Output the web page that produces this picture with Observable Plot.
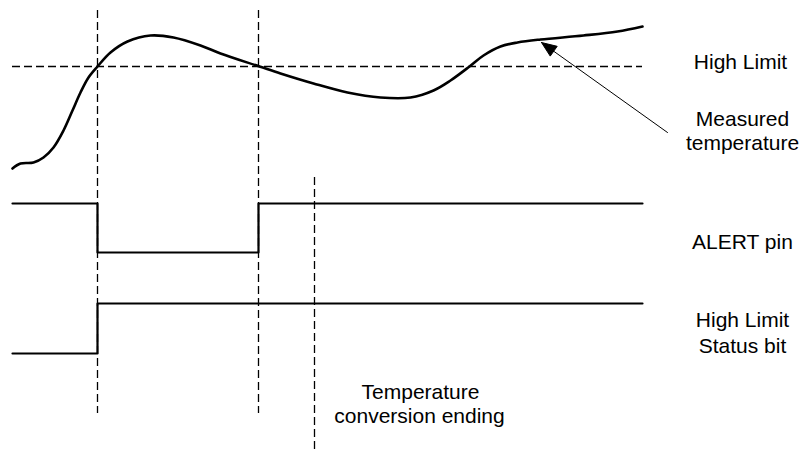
<!DOCTYPE html>
<html><head><meta charset="utf-8">
<script src="https://cdn.jsdelivr.net/npm/d3@7"></script>
<script src="https://cdn.jsdelivr.net/npm/@observablehq/plot@0.6"></script>
<style>body{margin:0;background:#fff}</style>
</head><body><div id="chart"></div>
<script>
// Measured temperature curve (time, level)
const tempTime  = [12, 20, 33, 43, 53, 63, 72, 80, 88, 97, 110, 127, 150, 173, 200, 220, 259, 280, 313, 347, 380, 410, 433, 450, 469, 483, 500, 517, 540, 583, 617, 642];
const tempLevel = [168, 163, 162, 157, 147, 130, 110, 92, 77, 66, 52, 41, 35, 37, 45, 53, 66, 73, 83, 92, 97, 97, 90, 80, 66, 55, 46, 42, 39, 35, 31, 26];
const highLimit = 66;
const limitStart = 12, limitEnd = 642;
// event times (vertical dashed markers)
const crossTimes = [97, 258];
const crossTop = 10, crossBottom = 413;
const conversionTime = 314, conversionTop = 177, conversionBottom = 450;
// ALERT pin signal
const alertTimes  = [12, 97, 258, 642];
const alertLevels = [203, 252, 203, 203];
// High Limit Status bit signal
const statusTimes  = [12, 97, 642];
const statusLevels = [353, 303, 303];
// annotation arrow
const arrowTail = [667, 132], arrowTip = [541, 42];
// labels
const labelText = ["High Limit", "Measured", "temperature", "ALERT pin", "High Limit", "Status bit", "Temperature", "conversion ending"];
const labelTime = [740, 742, 742, 742, 742, 742, 420, 419];
const labelLevel = [68, 125, 149, 248, 326, 352, 398, 422];

const temp = tempTime.map((t, i) => ({t, v: tempLevel[i]}));
const alert = alertTimes.map((t, i) => ({t, v: alertLevels[i]}));
const status = statusTimes.map((t, i) => ({t, v: statusLevels[i]}));
const vlines = crossTimes.map(t => ({t, y1: crossTop, y2: crossBottom}))
  .concat([{t: conversionTime, y1: conversionTop, y2: conversionBottom}]);
const labels = labelText.map((s, i) => ({s, t: labelTime[i], v: labelLevel[i]}));

// arrow head triangle derived from tail/tip
const dx = arrowTip[0] - arrowTail[0], dy = arrowTip[1] - arrowTail[1];
const len = Math.hypot(dx, dy), ux = dx / len, uy = dy / len;
const headL = 15, headW = 12;
const bx = arrowTip[0] - ux * headL, by = arrowTip[1] - uy * headL;
const head = [
  {t: arrowTip[0], v: arrowTip[1]},
  {t: bx - uy * headW / 2, v: by + ux * headW / 2},
  {t: bx + uy * headW / 2, v: by - ux * headW / 2},
  {t: arrowTip[0], v: arrowTip[1]}
];
const shaft = [{t: arrowTail[0], v: arrowTail[1]}, {t: bx, v: by}];

const chart = Plot.plot({
  width: 799, height: 450,
  margin: 0,
  style: {background: "#fff", fontFamily: "'Liberation Sans', Arial, sans-serif"},
  x: {domain: [0, 799], range: [0, 799], axis: null},
  y: {domain: [0, 450], range: [0, 450], axis: null},
  marks: [
    Plot.ruleY([{v: highLimit}], {y: "v", x1: limitStart, x2: limitEnd, stroke: "#000", strokeWidth: 1.3, strokeDasharray: "8,4"}),
    Plot.ruleX(vlines, {x: "t", y1: "y1", y2: "y2", stroke: "#000", strokeWidth: 1.3, strokeDasharray: "8,4"}),
    Plot.line(temp, {x: "t", y: "v", curve: "catmull-rom", stroke: "#000", strokeWidth: 2.6}),
    Plot.line(alert, {x: "t", y: "v", curve: "step-after", stroke: "#000", strokeWidth: 2.2}),
    Plot.line(status, {x: "t", y: "v", curve: "step-after", stroke: "#000", strokeWidth: 2.2}),
    Plot.line(shaft, {x: "t", y: "v", stroke: "#000", strokeWidth: 1}),
    Plot.line(head, {x: "t", y: "v", stroke: "#000", strokeWidth: 1, fill: "#000"}),
    Plot.text(labels, {x: "t", y: "v", text: "s", lineAnchor: "bottom", textAnchor: "middle", fontSize: 21, fill: "#000"})
  ]
});
document.getElementById("chart").append(chart);
</script>
</body></html>
